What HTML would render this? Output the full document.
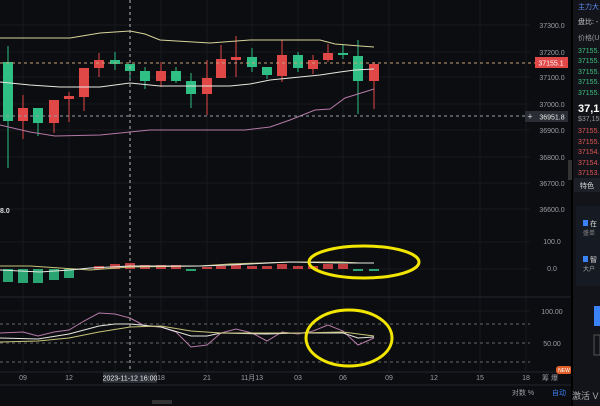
<!DOCTYPE html>
<html><head><meta charset="utf-8"><style>
html,body{margin:0;padding:0;background:#0c0d10;width:600px;height:406px;overflow:hidden;font-family:"Liberation Sans","Noto Sans CJK SC",sans-serif}
svg{position:absolute;left:0;top:0}
</style></head><body>
<svg id="s" width="600" height="406" viewBox="0 0 600 406" xmlns="http://www.w3.org/2000/svg">
<rect width="600" height="406" fill="#0c0d10"/>
<g id="grid" stroke="#17191e" stroke-width="1"></g>
<g id="c"></g>
<polyline fill="none" stroke="#d8d49a" stroke-width="1" points="0,38 70,38 100,33 130,31 145,34 160,40 210,43 250,40 320,40 335,44 360,46 374,47"/>
<polyline fill="none" stroke="#e8e8e0" stroke-width="1" points="0,82 30,85 60,87 100,87 130,83 160,86 230,86 250,84 270,80 320,75 340,72 355,70 374,69"/>
<polyline fill="none" stroke="#b57aa8" stroke-width="1" points="0,125 30,132 55,136 100,135 150,130 245,130 270,127 290,120 315,110 330,109 345,98 374,89"/>
<line x1="0" y1="63" x2="535" y2="63" stroke="#c9a27a" stroke-dasharray="3,3"/>
<line x1="0" y1="116" x2="525" y2="116" stroke="#9aa0a8" stroke-dasharray="3,3"/>
<line x1="130" y1="0" x2="130" y2="375" stroke="#bbb" stroke-dasharray="3,3"/>
<g font-size="7" fill="#9a9ea6" text-anchor="middle">
<text x="552" y="28">37300.0</text><text x="552" y="55">37200.0</text><text x="552" y="80">37100.0</text><text x="552" y="107">37000.0</text><text x="552" y="133">36900.0</text><text x="552" y="160">36800.0</text><text x="552" y="186">36700.0</text><text x="552" y="212">36600.0</text>
<text x="552" y="244">100.0</text><text x="552" y="271">0.0</text><text x="552" y="314">100.00</text><text x="552" y="346">50.00</text>
</g>
<rect x="535" y="57" width="33" height="11" fill="#e04848"/>
<text x="551" y="65.5" font-size="7" fill="#fff" text-anchor="middle">37155.1</text>
<rect x="525" y="111" width="43" height="11" fill="#2a2d33"/>
<text x="530" y="119.5" font-size="9" fill="#ddd" text-anchor="middle">+</text>
<text x="552" y="119.5" font-size="7" fill="#eee" text-anchor="middle">36951.8</text>
<text x="0" y="213" font-size="7" fill="#ddd" font-weight="bold">8.0</text>
<line x1="0" y1="297" x2="572" y2="297" stroke="#22252b"/>
<line x1="0" y1="372" x2="572" y2="372" stroke="#22252b"/>
<line x1="0" y1="385" x2="572" y2="385" stroke="#22252b"/>
<g id="m"></g>
<polyline fill="none" stroke="#c8c47a" stroke-width="1" points="0,266 30,266 60,268 90,270 130,267 200,266 230,264 290,262 340,262 360,263"/>
<polyline fill="none" stroke="#e8e8e0" stroke-width="1" points="0,270 40,272 70,270 90,268 130,266 200,266 230,265 290,262 340,263 374,263"/>
<line x1="0" y1="324" x2="530" y2="324" stroke="#666" stroke-dasharray="3,3"/>
<line x1="0" y1="343" x2="530" y2="343" stroke="#666" stroke-dasharray="3,3"/>
<line x1="0" y1="362" x2="530" y2="362" stroke="#666" stroke-dasharray="3,3"/>
<polyline fill="none" stroke="#b57aa8" stroke-width="1" points="0,333 23,332 38,336 54,332 69,330 84,321 99,313 115,314 130,318 145,326 161,327 176,332 191,347 207,345 221,333 236,329 252,333 267,341 282,332 298,334 313,331 328,325 343,331 358,345 374,338"/>
<polyline fill="none" stroke="#e8e8e0" stroke-width="1" points="0,338 38,339 69,334 99,326 115,324 130,324 161,327 191,336 207,336 221,333 267,334 298,333 343,333 358,338 374,337"/>
<polyline fill="none" stroke="#c8c47a" stroke-width="1" points="0,342 38,341 69,338 99,332 130,327 161,326 191,331 221,333 267,333 298,333 343,332 374,336"/>
<ellipse cx="364" cy="262" rx="55" ry="16" fill="none" stroke="#f2e600" stroke-width="3"/>
<ellipse cx="349" cy="338" rx="43" ry="28" fill="none" stroke="#f2e600" stroke-width="3"/>
<g font-size="7" fill="#9a9ea6" text-anchor="middle">
<text x="23" y="380">09</text><text x="69" y="380">12</text><text x="161" y="380">18</text><text x="207" y="380">21</text><text x="252" y="380">11月13</text><text x="298" y="380">03</text><text x="343" y="380">06</text><text x="389" y="380">09</text><text x="434" y="380">12</text><text x="480" y="380">15</text><text x="526" y="380">18</text><text x="550" y="380">筹 爆</text>
<text x="523" y="395">对数  %</text>
</g>
<text x="559" y="395" font-size="7" fill="#3b82f6" text-anchor="middle">自动</text>
<rect x="103" y="372" width="54" height="11" fill="#2a2d33"/>
<text x="130" y="380.5" font-size="7" fill="#eee" text-anchor="middle">2023-11-12 16:00</text>
<rect x="556" y="366" width="16" height="8" rx="3" fill="#e0602a"/>
<text x="564" y="372" font-size="5" fill="#fff" text-anchor="middle">NEW</text>
<rect x="152" y="400" width="20" height="4" fill="#333"/>
<rect x="572" y="0" width="28" height="406" fill="#121419"/>
<line x1="572" y1="0" x2="572" y2="406" stroke="#000" stroke-width="2"/>
<g font-size="7">
<text x="578" y="9" fill="#5b8def">主力大</text>
<text x="578" y="24" fill="#ccc">盘比: -</text>
<text x="578" y="40" fill="#999">价格(U</text>
<text x="578" y="53" fill="#3fbf7f">37155.</text><text x="578" y="63" fill="#3fbf7f">37155.</text><text x="578" y="74" fill="#3fbf7f">37155.</text><text x="578" y="84" fill="#3fbf7f">37155.</text><text x="578" y="95" fill="#3fbf7f">37155.</text>
<text x="578" y="112" fill="#fff" font-size="11" font-weight="bold">37,15</text>
<text x="578" y="121" fill="#999">$37,155</text>
<text x="578" y="133" fill="#e05555">37155.</text><text x="578" y="144" fill="#e05555">37155.</text><text x="578" y="154" fill="#e05555">37154.</text><text x="578" y="165" fill="#e05555">37154.</text><text x="578" y="175" fill="#e05555">37153.</text>
</g>
<rect x="574" y="178" width="26" height="14" fill="#1d2026"/>
<text x="580" y="188" font-size="7" fill="#ddd">特色</text>
<rect x="576" y="206" width="24" height="80" fill="#161a22"/>
<rect x="583" y="220" width="5" height="6" fill="#3b82f6"/><text x="590" y="226" font-size="7" fill="#ddd">在</text>
<text x="583" y="235" font-size="6" fill="#888">盛单</text>
<rect x="583" y="256" width="5" height="6" fill="#3b82f6"/><text x="590" y="262" font-size="7" fill="#ddd">智</text>
<text x="583" y="271" font-size="6" fill="#aaa">大户</text>
<rect x="594" y="306" width="6" height="20" fill="#3b82f6"/>
<rect x="594" y="335" width="6" height="20" fill="none" stroke="#555"/>
<text x="572" y="399" font-size="9" fill="#aaa">激活 V</text>
<rect x="568" y="160" width="4" height="20" fill="#333"/>
</svg>
<script>
var ns="http://www.w3.org/2000/svg";
function el(p,t,a){var e=document.createElementNS(ns,t);for(var k in a)e.setAttribute(k,a[k]);document.getElementById(p).appendChild(e);}
[23,69,115,161,207,252,298,343,389,434,480,526].forEach(function(x){el('grid','line',{x1:x,y1:0,x2:x,y2:372});});
[25,52,77,104,130,157,183,209,242,269,311].forEach(function(y){el('grid','line',{x1:0,y1:y,x2:530,y2:y});});
var G="#2fbf84",R="#e04848";
var d=[[8,'g',62,121,46,168],[23,'r',108,121,95,139],[38,'g',108,123,108,136],[54,'r',100,123,100,133],[69,'r',96,99,92,122],[84,'r',68,97,68,111],[99,'r',60,68,53,77],[115,'g',60,64,52,70],[130,'g',64,71,64,80],[145,'g',71,81,67,89],[161,'r',71,81,62,87],[176,'g',71,81,67,83],[191,'g',81,94,73,108],[207,'r',78,94,60,115],[221,'r',59,78,45,78],[236,'r',57,60,36,77],[252,'g',57,67,48,72],[267,'g',67,75,67,79],[282,'r',55,76,40,82],[298,'g',55,68,52,72],[313,'r',60,69,55,74],[328,'r',53,60,44,62],[343,'g',53,55,45,59],[358,'g',56,81,40,114],[374,'r',64,81,62,109]];
d.forEach(function(c){var col=c[1]=='g'?G:R;el('c','line',{x1:c[0],y1:c[4],x2:c[0],y2:c[5],stroke:col,'stroke-width':1});el('c','rect',{x:c[0]-5,y:c[2],width:10,height:Math.max(2,c[3]-c[2]),fill:col});});
var m=[[8,'g',282],[23,'g',283],[38,'g',283],[54,'g',280],[69,'g',278],[99,'r',266],[115,'r',264],[130,'r',263],[145,'r',265],[161,'r',265],[176,'r',265],[191,'g',271],[207,'r',267],[221,'r',266],[236,'r',264],[252,'r',266],[267,'r',266],[282,'r',264],[298,'r',266],[313,'r',266],[328,'r',264],[343,'r',264],[358,'g',271],[374,'g',271]];
m.forEach(function(b){var col=b[1]=='g'?G:R;var y0=269;var y=Math.min(y0,b[2]),h=Math.max(2,Math.abs(b[2]-y0));if(b[0]>350){y=269;h=2;}el('m','rect',{x:b[0]-5,y:y,width:10,height:h,fill:col,opacity:0.85});});
</script>
</body></html>
